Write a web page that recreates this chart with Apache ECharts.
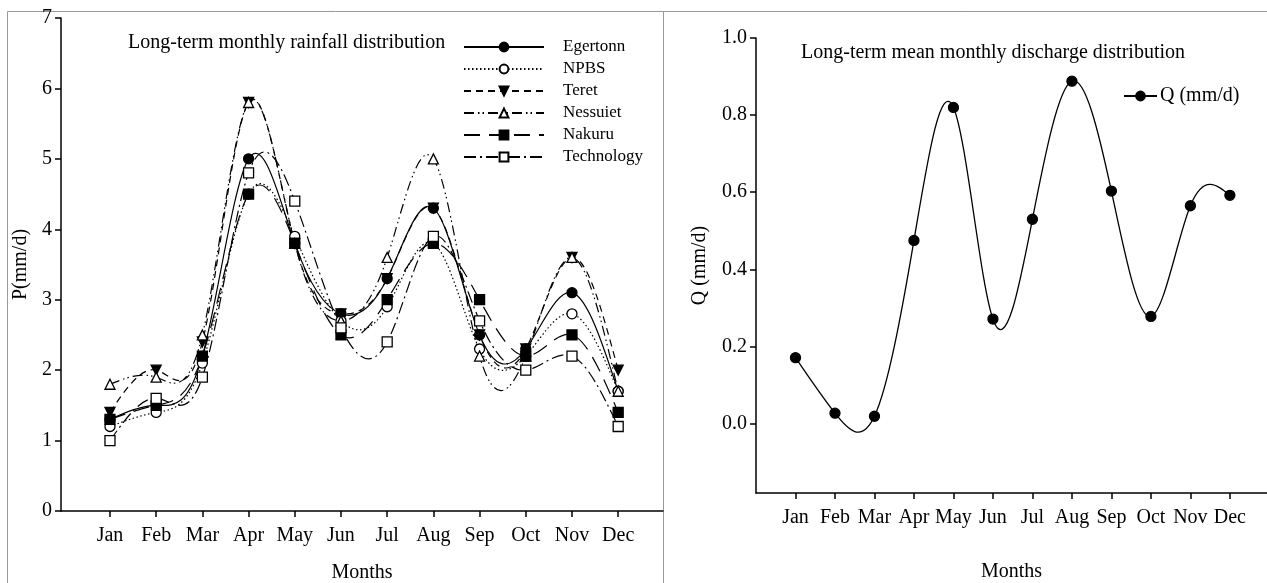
<!DOCTYPE html>
<html>
<head>
<meta charset="utf-8">
<script src="https://cdn.jsdelivr.net/npm/echarts@6/dist/echarts.min.js"></script>
<style>
  html, body { margin: 0; padding: 0; background: #fff; }
  #container { width: 1267px; height: 583px; }
</style>
</head>
<body>
<div id="container"></div>
<script>
// months on both x axes
var months = ['Jan', 'Feb', 'Mar', 'Apr', 'May', 'Jun', 'Jul', 'Aug', 'Sep', 'Oct', 'Nov', 'Dec'];

// long-term monthly rainfall P (mm/d) per station
var egertonn   = [1.3, 1.5, 2.2, 5.0, 3.8, 2.8, 3.3, 4.3, 2.5, 2.3, 3.1, 1.7];
var npbs       = [1.2, 1.4, 2.1, 4.5, 3.9, 2.7, 2.9, 3.8, 2.3, 2.2, 2.8, 1.7];
var teret      = [1.4, 2.0, 2.4, 5.8, 3.8, 2.8, 3.3, 4.3, 2.5, 2.3, 3.6, 2.0];
var nessuiet   = [1.8, 1.9, 2.5, 5.8, 3.8, 2.7, 3.6, 5.0, 2.2, 2.2, 3.6, 1.7];
var nakuru     = [1.3, 1.5, 2.2, 4.5, 3.8, 2.5, 3.0, 3.8, 3.0, 2.2, 2.5, 1.4];
var technology = [1.0, 1.6, 1.9, 4.8, 4.4, 2.6, 2.4, 3.9, 2.7, 2.0, 2.2, 1.2];

// long-term mean monthly discharge Q (mm/d)
var discharge = [0.171, 0.027, 0.019, 0.475, 0.82, 0.271, 0.53, 0.888, 0.603, 0.278, 0.565, 0.592];

// tick labels
var monthTicks = [1, 2, 3, 4, 5, 6, 7, 8, 9, 10, 11, 12];
var qTicks = [0, 0.2, 0.4, 0.6, 0.8, 1.0];

var FONT = 'Liberation Serif';

function toPoints(vals) {
    var out = [];
    for (var i = 0; i < vals.length; i++) {
        out.push([i + 1, vals[i]]);
    }
    return out;
}

// natural cubic spline through pixel points, as bezier path
function splinePath(pts) {
    var n = pts.length;
    var h = [], M = [], a = [], b = [], c = [], d = [];
    for (var i = 0; i < n - 1; i++) h.push(pts[i + 1][0] - pts[i][0]);
    for (var i = 0; i < n; i++) { M.push(0); a.push(0); b.push(1); c.push(0); d.push(0); }
    for (var i = 1; i < n - 1; i++) {
        a[i] = h[i - 1];
        b[i] = 2 * (h[i - 1] + h[i]);
        c[i] = h[i];
        d[i] = 6 * ((pts[i + 1][1] - pts[i][1]) / h[i] - (pts[i][1] - pts[i - 1][1]) / h[i - 1]);
    }
    // thomas
    for (var i = 1; i < n; i++) {
        var w = a[i] / b[i - 1];
        b[i] -= w * c[i - 1];
        d[i] -= w * d[i - 1];
    }
    M[n - 1] = d[n - 1] / b[n - 1];
    for (var i = n - 2; i >= 0; i--) M[i] = (d[i] - c[i] * M[i + 1]) / b[i];

    var s = 'M' + pts[0][0] + ',' + pts[0][1];
    for (var i = 0; i < n - 1; i++) {
        var x0 = pts[i][0], y0 = pts[i][1], x1 = pts[i + 1][0], y1 = pts[i + 1][1], hh = h[i];
        var d0 = (y1 - y0) / hh - hh * (2 * M[i] + M[i + 1]) / 6;
        var d1 = (y1 - y0) / hh + hh * (M[i] + 2 * M[i + 1]) / 6;
        s += 'C' + (x0 + hh / 3) + ',' + (y0 + hh * d0 / 3) + ' ' +
             (x1 - hh / 3) + ',' + (y1 - hh * d1 / 3) + ' ' + x1 + ',' + y1;
    }
    return s;
}

function curve(name, vals, dash, width, axis) {
    return {
        name: name + ' curve',
        type: 'custom',
        xAxisIndex: axis,
        yAxisIndex: axis,
        data: toPoints(vals),
        z: 1,
        silent: true,
        clip: false,
        renderItem: function (params, api) {
            if (params.dataIndex !== 0) return null;
            var pts = [];
            for (var i = 0; i < vals.length; i++) pts.push(api.coord([i + 1, vals[i]]));
            return {
                type: 'path',
                shape: { pathData: splinePath(pts) },
                style: { fill: 'none', stroke: '#000', lineWidth: width, lineDash: dash }
            };
        }
    };
}

function station(name, vals, symbol, filled, dash, axis) {
    return {
        name: name,
        type: 'line',
        xAxisIndex: axis,
        yAxisIndex: axis,
        data: toPoints(vals),
        symbol: symbol,
        symbolSize: 10,
        z: 3,
        lineStyle: { color: '#000', width: 1.2, type: dash, opacity: 0 },
        itemStyle: { color: filled ? '#000' : '#fff', borderColor: '#000', borderWidth: 1.3 },
        emphasis: { disabled: true }
    };
}

var triDown = 'path://M0,0 L10,0 L5,9 Z';
var triUp = 'path://M5,0 L10,9 L0,9 Z';

var dashNpbs = [1.5, 2.5];
var dashTeret = [7, 5];
var dashNess = [10, 4, 1.5, 3, 1.5, 4];
var dashNakuru = [16, 9];
var dashTech = [12, 4, 2, 4];

var axisText = { fontFamily: FONT, fontSize: 20, color: '#000' };

var dom = document.getElementById('container');
var myChart = echarts.init(dom);
var option = {
    animation: false,
    backgroundColor: '#fff',
    title: [
        {
            text: 'Long-term monthly rainfall distribution',
            left: 128, top: 33, padding: 0,
            textStyle: { fontFamily: FONT, fontSize: 20, fontWeight: 'normal', color: '#000' }
        },
        {
            text: 'Long-term mean monthly discharge distribution',
            left: 801, top: 43, padding: 0,
            textStyle: { fontFamily: FONT, fontSize: 20, fontWeight: 'normal', color: '#000' }
        }
    ],
    legend: [
        {
            orient: 'vertical',
            left: 463, top: 38,
            padding: 0,
            itemWidth: 80, itemHeight: 11, itemGap: 4,
            lineStyle: { opacity: 1 },
            textStyle: { fontFamily: FONT, fontSize: 17, color: '#000', lineHeight: 18, padding: [0, 0, 0, 14] },
            data: ['Egertonn', 'NPBS', 'Teret', 'Nessuiet', 'Nakuru', 'Technology']
        },
        {
            orient: 'vertical',
            left: 1123, top: 86,
            padding: 0,
            itemWidth: 33, itemHeight: 11,
            lineStyle: { opacity: 1 },
            textStyle: { fontFamily: FONT, fontSize: 20, color: '#000', padding: [0, 0, 0, -2] },
            data: ['Q (mm/d)']
        }
    ],
    grid: [
        { left: 61, right: 604, top: 18, bottom: 72, outerBoundsMode: 'none' },
        { left: 756, right: 0, top: 38, bottom: 90, outerBoundsMode: 'none' }
    ],
    xAxis: [
        {
            gridIndex: 0, type: 'value', min: -0.06, max: 12.97,
            name: 'Months', nameLocation: 'middle', nameGap: 52, nameTextStyle: axisText,
            axisLine: { onZero: false, lineStyle: { color: '#000', width: 1.5 } },
            axisTick: { customValues: monthTicks, length: 6, lineStyle: { color: '#000', width: 1.5 } },
            axisLabel: {
                customValues: monthTicks, margin: 15, fontFamily: FONT, fontSize: 20, color: '#000',
                formatter: function (v) { return months[v - 1]; }
            },
            splitLine: { show: false }
        },
        {
            gridIndex: 1, type: 'value', min: 0, max: 12.94,
            name: 'Months', nameLocation: 'middle', nameGap: 69, nameTextStyle: axisText,
            axisLine: { onZero: false, lineStyle: { color: '#000', width: 1.5 } },
            axisTick: { customValues: monthTicks, length: 6, lineStyle: { color: '#000', width: 1.5 } },
            axisLabel: {
                customValues: monthTicks, margin: 15, fontFamily: FONT, fontSize: 20, color: '#000',
                formatter: function (v) { return months[v - 1]; }
            },
            splitLine: { show: false }
        }
    ],
    yAxis: [
        {
            gridIndex: 0, type: 'value', min: 0, max: 7, interval: 1,
            name: 'P(mm/d)', nameLocation: 'middle', nameGap: 30, nameTextStyle: axisText,
            axisLine: { show: true, onZero: false, lineStyle: { color: '#000', width: 1.5 } },
            axisTick: { show: true, length: 6, lineStyle: { color: '#000', width: 1.5 } },
            axisLabel: { margin: 9, fontFamily: FONT, fontSize: 20, color: '#000' },
            splitLine: { show: false }
        },
        {
            gridIndex: 1, type: 'value', min: -0.18, max: 1.0,
            name: 'Q (mm/d)', nameLocation: 'middle', nameGap: 46, nameTextStyle: axisText,
            axisLine: { show: true, onZero: false, lineStyle: { color: '#000', width: 1.5 } },
            axisTick: { show: true, customValues: qTicks, length: 6, lineStyle: { color: '#000', width: 1.5 } },
            axisLabel: {
                customValues: qTicks, margin: 9, fontFamily: FONT, fontSize: 20, color: '#000',
                formatter: function (v) { return v.toFixed(1); }
            },
            splitLine: { show: false }
        }
    ],
    graphic: [
        { type: 'rect', shape: { x: 7.5, y: 11.5, width: 656, height: 620 }, style: { fill: 'none', stroke: '#999', lineWidth: 1 }, silent: true },
        { type: 'rect', shape: { x: 663.5, y: 11.5, width: 640, height: 620 }, style: { fill: 'none', stroke: '#999', lineWidth: 1 }, silent: true }
    ],
    series: [
        station('Egertonn', egertonn, 'circle', true, 'solid', 0),
        station('NPBS', npbs, 'circle', false, dashNpbs, 0),
        station('Teret', teret, triDown, true, dashTeret, 0),
        station('Nessuiet', nessuiet, triUp, false, dashNess, 0),
        station('Nakuru', nakuru, 'rect', true, dashNakuru, 0),
        station('Technology', technology, 'rect', false, dashTech, 0),
        station('Q (mm/d)', discharge, 'circle', true, 'solid', 1),
        curve('Egertonn', egertonn, null, 1.2, 0),
        curve('NPBS', npbs, dashNpbs, 1.2, 0),
        curve('Teret', teret, dashTeret, 1.2, 0),
        curve('Nessuiet', nessuiet, dashNess, 1.2, 0),
        curve('Nakuru', nakuru, dashNakuru, 1.2, 0),
        curve('Technology', technology, dashTech, 1.2, 0),
        curve('Q (mm/d)', discharge, null, 1.3, 1)
    ]
};
if (option && typeof option === 'object') {
    myChart.setOption(option, true);
}
</script>
</body>
</html>
